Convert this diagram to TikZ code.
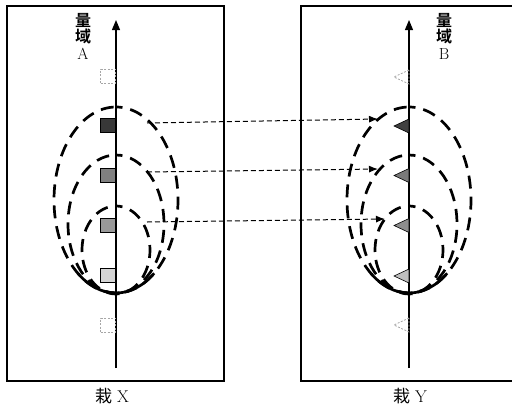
\documentclass[tikz,border=0pt]{standalone}
\usepackage{fontspec}
\newfontfamily\cjk{Noto Sans CJK SC}[BoldFont={Noto Sans CJK SC Bold}]
\usetikzlibrary{arrows.meta}
\definecolor{sqA}{HTML}{383838}
\definecolor{sqB}{HTML}{808080}
\definecolor{sqC}{HTML}{999999}
\definecolor{sqD}{HTML}{D4D4D4}
\definecolor{trA}{HTML}{404040}
\definecolor{trB}{HTML}{7A7A7A}
\definecolor{trC}{HTML}{8E8E8E}
\definecolor{trD}{HTML}{BEBEBE}
\begin{document}
\begin{tikzpicture}[x=1pt,y=-1pt,
  frame/.style={line width=1.2pt},
  axisline/.style={line width=1.1pt,-{Triangle[length=10pt,width=8pt]}},
  ell/.style={line width=2.7pt,dash pattern=on 13pt off 8pt,dash phase=6.5pt},
  sq/.style={draw,line width=0.8pt,minimum width=15pt,minimum height=14pt,inner sep=0pt,anchor=east},
  ghostsq/.style={sq,draw=gray!70,dash pattern=on 2pt off 1.5pt},
  tri/.style={draw,line width=0.6pt},
  ghosttri/.style={draw=gray!70,line width=0.8pt,dash pattern=on 2pt off 1.5pt},
  link/.style={line width=1pt,dash pattern=on 5pt off 3pt,-{Latex[length=9pt,width=7pt]}},
  lbl/.style={font=\fontsize{16}{16.5}\selectfont,align=center,inner sep=0pt},
  botlbl/.style={font=\fontsize{17}{17}\selectfont,inner sep=0pt}
]
\useasboundingbox (0,0) rectangle (512,405);

% frames
\draw[frame] (7,6) rectangle (224,381);
\draw[frame] (301,6) rectangle (530,381);

% axes
\coordinate (la0) at (116,368); \coordinate (la1) at (116,20);
\coordinate (ra0) at (409,368); \coordinate (ra1) at (409,20);
\draw[axisline] (la0) -- (la1);
\draw[axisline] (ra0) -- (ra1);

% axis labels
\node[lbl] (labA) at (83,36) {{\cjk\bfseries 量}\\{\cjk\bfseries 域}\\A};
\node[lbl] (labB) at (444,36) {{\cjk\bfseries 量}\\{\cjk\bfseries 域}\\B};
\node[botlbl] (labX) at (112,396) {{\cjk 栽} X};
\node[botlbl] (labY) at (410,396) {{\cjk 栽} Y};

% ellipses
\foreach \cx in {116,409}{
  \draw[ell] (\cx,107) arc[start angle=-90,end angle=270,x radius=62,y radius=93];
  \draw[ell] (\cx,155) arc[start angle=-90,end angle=270,x radius=48,y radius=69];
  \draw[ell] (\cx,206) arc[start angle=-90,end angle=270,x radius=34,y radius=44];
  \draw[line width=2.7pt] (\cx,200) ++(52:62 and 93) arc[start angle=52,end angle=128,x radius=62,y radius=93];
}

% squares
\node[ghostsq] (s0) at (116,76) {};
\node[sq,fill=sqA] (s1) at (116,125.5) {};
\node[sq,fill=sqB] (s2) at (116,175) {};
\node[sq,fill=sqC] (s3) at (116,225) {};
\node[sq,fill=sqD] (s4) at (116,275.5) {};
\node[ghostsq] (s5) at (116,325) {};

% triangles
\draw[ghosttri] (409,70) -- (394,77) -- (409,84) -- cycle;
\draw[tri,fill=trA] (409,119) -- (394,126) -- (409,133) -- cycle;
\draw[tri,fill=trB] (409,168.5) -- (394,175.5) -- (409,182.5) -- cycle;
\draw[tri,fill=trC] (409,218.5) -- (394,225.5) -- (409,232.5) -- cycle;
\draw[tri,fill=trD] (409,269) -- (394,276) -- (409,283) -- cycle;
\draw[ghosttri] (409,318) -- (394,325) -- (409,332) -- cycle;

% links
\coordinate (p1) at (147,123); \coordinate (q1) at (378,119);
\coordinate (p2) at (147,172); \coordinate (q2) at (378,169);
\coordinate (p3) at (147,222); \coordinate (q3) at (385,219);
\draw[link] (p1) -- (q1);
\draw[link] (p2) -- (q2);
\draw[link] (p3) -- (q3);
\end{tikzpicture}
\end{document}
